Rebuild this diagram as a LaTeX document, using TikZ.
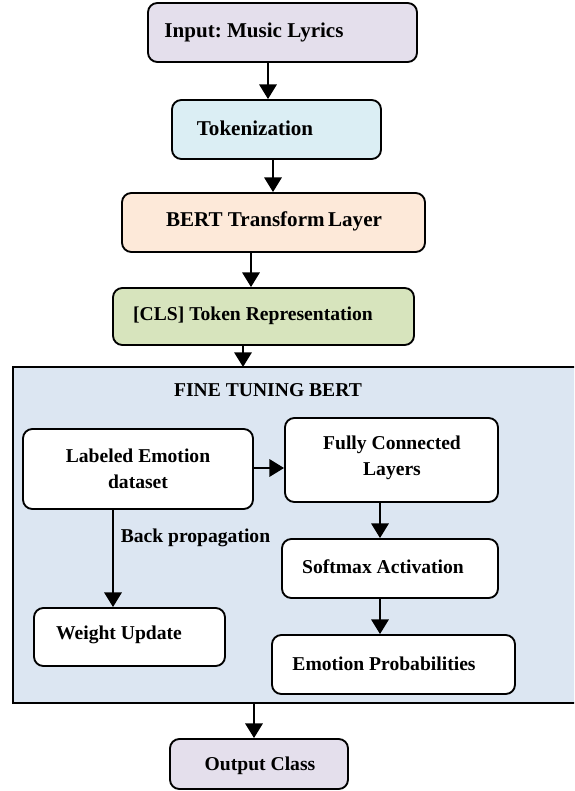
\documentclass[tikz,border=0pt]{standalone}
\usepackage{fontspec}
\setmainfont{Liberation Serif}
\frenchspacing
\usetikzlibrary{arrows.meta}
\definecolor{lavender}{HTML}{E4DFEC}
\definecolor{iceblue}{HTML}{DBEEF4}
\definecolor{peach}{HTML}{FDE9D9}
\definecolor{sage}{HTML}{D7E4BD}
\definecolor{panel}{HTML}{DCE6F2}
\tikzset{
  box/.style={draw=black, line width=1.4pt, rounded corners=7pt, inner sep=0pt},
  txt/.style={font=\fontsize{14.7}{19.5}\selectfont\bfseries, inner sep=0pt, align=center},
  bigtxt/.style={txt, font=\fontsize{15.8}{19}\selectfont\bfseries},
  flow/.style={line width=1.7pt, -{Triangle[length=11pt,width=13pt]}},
}
% place a box from its pixel corners
\newcommand{\pxbox}[6]{%
  \node[box, fill=#6, minimum width={(#3-#1)*0.75pt}, minimum height={(#4-#2)*0.75pt}]
    (#5) at ({(#1+#3)/2},{(#2+#4)/2}) {};}
\begin{document}
\begin{tikzpicture}[x=0.75pt, y=-0.75pt]
\useasboundingbox (0,0) rectangle (574,791);
\fill[white] (0,0) rectangle (574,791);

% fine-tuning panel (runs off the right edge)
\begin{scope}
\clip (0,0) rectangle (574,791);
\draw[fill=panel, line width=1.4pt] (13,367) rectangle (590,703);
\end{scope}
\coordinate (paneltop) at (243,367);
\coordinate (panelbot) at (254,703);
\node[txt] at (268,390) {FINE TUNING BERT};

% main pipeline
\pxbox{148}{3}{417}{62}{inp}{lavender}
\node[bigtxt] at (254,32) {Input: Music Lyrics};
\pxbox{172}{100}{381}{159}{tok}{iceblue}
\node[bigtxt] at (255,128) {Tokenization};
\pxbox{122}{193}{425}{252}{bert}{peach}
\node[bigtxt] at (274,221) {BERT Transform\,Layer};
\pxbox{113}{288}{414}{345}{cls}{sage}
\node[txt] at (253,316) {[CLS] Token Representation};
\pxbox{170}{739}{348}{789}{out}{lavender}
\node[txt] at (260,766) {Output Class};

% inner boxes
\pxbox{23}{429}{253}{509}{lab}{white}
\node[txt] at (138,469) {Labeled Emotion\\dataset};
\pxbox{285}{418}{498}{502}{fc}{white}
\node[txt] at (392,458) {Fully Connected\\Layers};
\pxbox{282}{539}{498}{598}{soft}{white}
\node[txt] at (383,567) {Softmax Activation};
\pxbox{272}{635}{515}{694}{emo}{white}
\node[txt] at (384,664) {Emotion Probabilities};
\pxbox{34}{608}{225}{666}{wu}{white}
\node[txt] at (119,635) {Weight Update};

% connectors
\draw[flow] (inp.south -| 268,0) -- (tok.north -| 268,0);
\draw[flow] (tok.south -| 273,0) -- (bert.north -| 273,0);
\draw[flow] (bert.south -| 251,0) -- (cls.north -| 251,0);
\draw[flow] (cls.south -| paneltop) -- (paneltop);
\draw[flow] (panelbot) -- (out.north -| panelbot);
\draw[flow] (lab.east |- 0,468) -- (fc.west |- 0,468);
\draw[flow] (fc.south -| 380,0) -- (soft.north -| 380,0);
\draw[flow] (soft.south -| 380,0) -- (emo.north -| 380,0);
\draw[flow] (lab.south -| 113,0) -- node[txt, right=5pt, pos=0.29] {Back propagation} (wu.north -| 113,0);
\end{tikzpicture}
\end{document}
